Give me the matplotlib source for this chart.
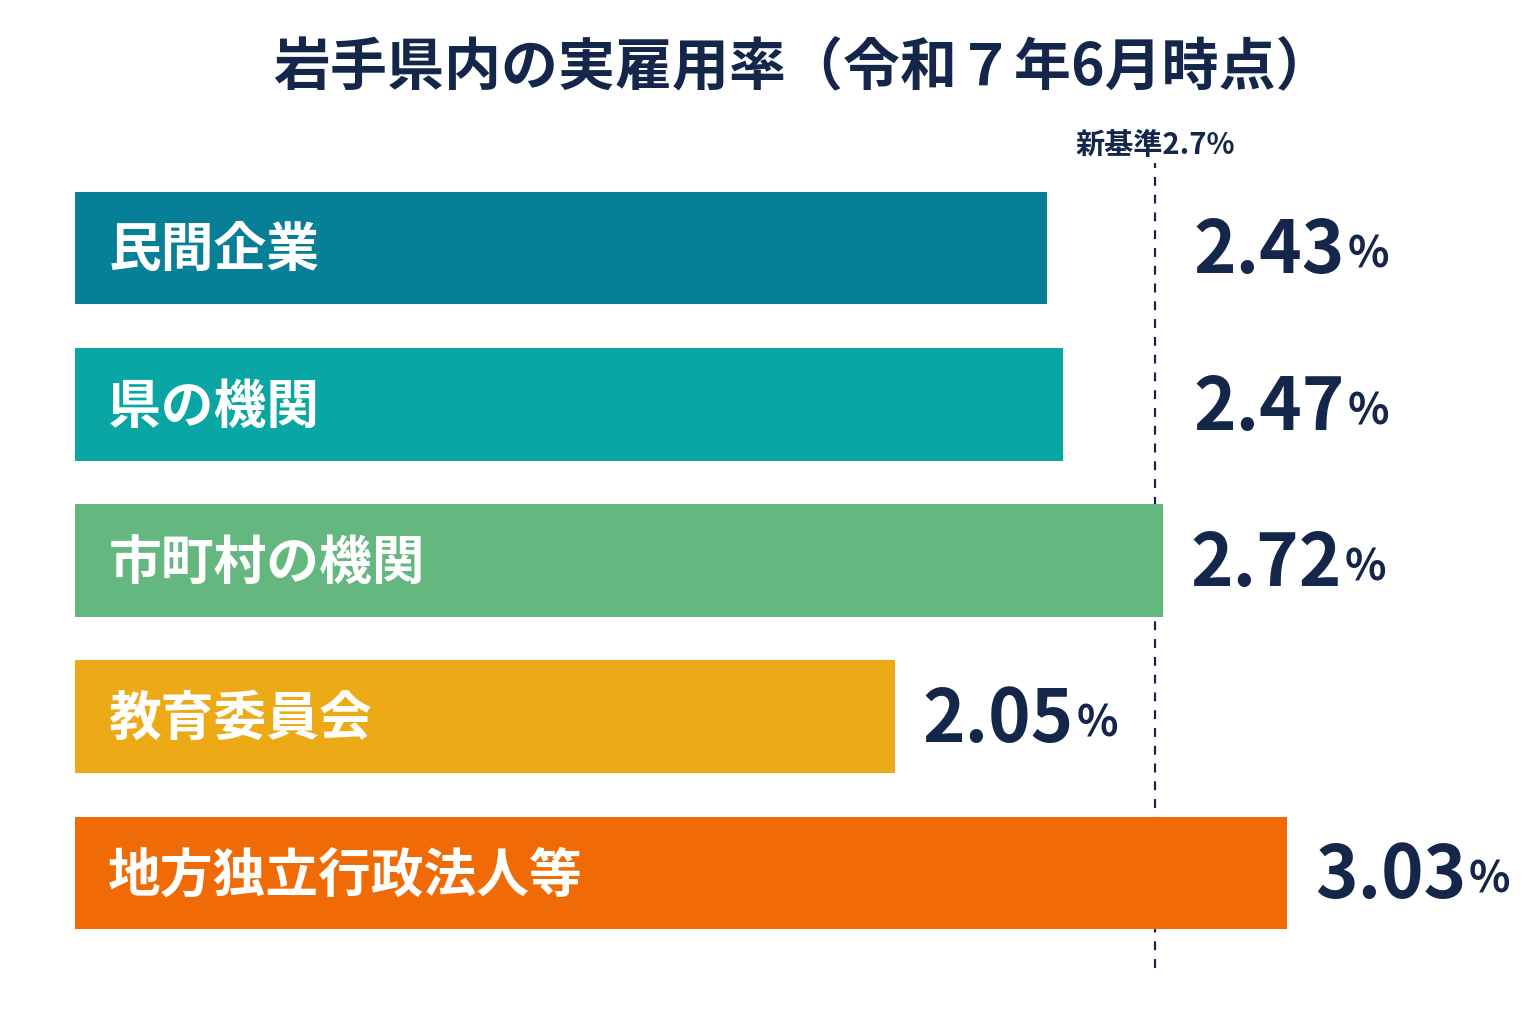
import matplotlib.pyplot as plt

plt.rcParams['font.family'] = ['Noto Sans CJK JP', 'DejaVu Sans']

# データ
categories = ['民間企業', '県の機関', '市町村の機関', '教育委員会', '地方独立行政法人等']
rates = [2.43, 2.47, 2.72, 2.05, 3.03]
bar_colors = ['#077f97', '#0aa6a4', '#63b77f', '#ecab16', '#f06b05']
new_standard = 2.7
title = '岩手県内の実雇用率（令和７年6月時点）'

navy = '#14264a'

fig = plt.figure(figsize=(15.36, 10.24), dpi=100)
ax = fig.add_axes([75 / 1536, 1 - 968 / 1024, 1461 / 1536, 805 / 1024])

y = list(range(len(categories)))
ax.barh(y, rates, height=0.723, color=bar_colors, zorder=2)
ax.set_xlim(0, 1461 / 400)
ax.set_ylim(len(categories) - 1 + 0.608, -0.544)
ax.axis('off')

# 新基準ライン
ax.axvline(new_standard, color=navy, linestyle=(0, (4, 4)), linewidth=1.6, zorder=1)
ax.annotate('新基準2.7%', xy=(new_standard, 1), xycoords=('data', 'axes fraction'),
            xytext=(0, 2), textcoords='offset points', ha='center', va='bottom',
            fontsize=21, fontweight='bold', color=navy)

for i, (cat, val) in enumerate(zip(categories, rates)):
    # バー内のラベル
    ax.annotate(cat, xy=(0, i), xytext=(24, -2), textcoords='offset points',
                ha='left', va='center', fontsize=38, fontweight='bold', color='white', zorder=3)
    # 数値ラベル（基準線のすぐ左で終わるバーは線の右側に置く）
    if new_standard - 0.35 < val < new_standard:
        x_lab, dx = new_standard, 28
    else:
        x_lab, dx = val, 20
    num = ax.annotate(f'{val:.2f}', xy=(x_lab, i), xytext=(dx, -3), textcoords='offset points',
                      ha='left', va='center', fontsize=52, fontweight='bold', color=navy, zorder=3)
    ax.annotate('%', xy=(1, 0), xycoords=num, xytext=(2, 9), textcoords='offset points',
                ha='left', va='bottom', fontsize=31, fontweight='bold', color=navy, zorder=3)

fig.text(803 / 1536, 1 - 68 / 1024, title, ha='center', va='center',
         fontsize=41, fontweight='bold', color=navy)

fig.savefig('out.png', dpi=100, facecolor='white')
